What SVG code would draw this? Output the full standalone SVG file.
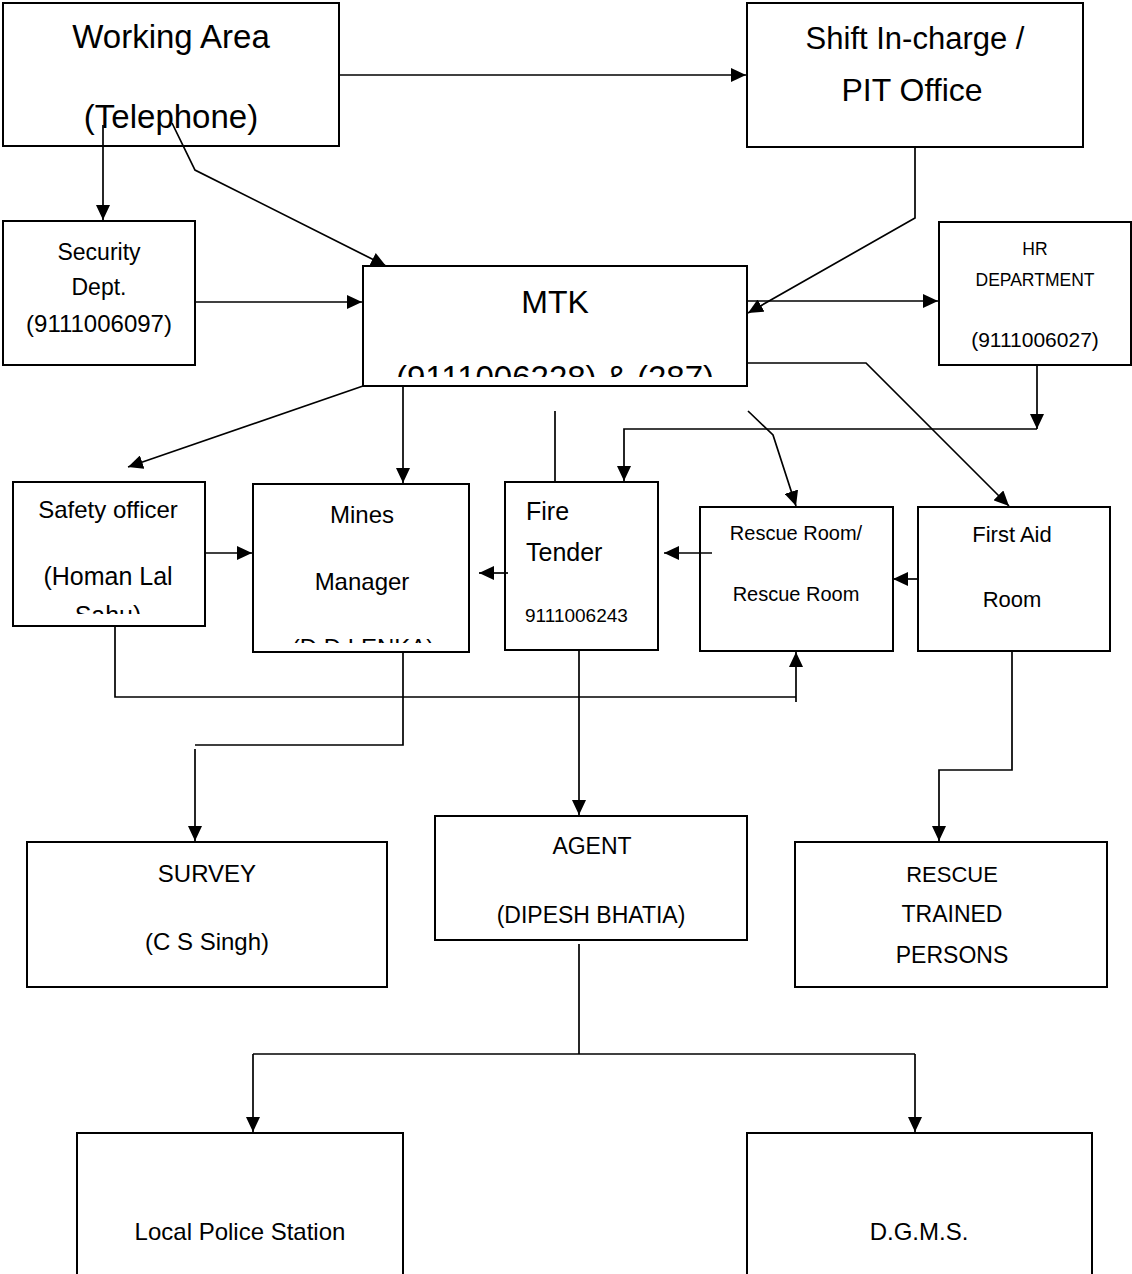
<svg xmlns="http://www.w3.org/2000/svg" width="1132" height="1274" viewBox="0 0 1132 1274">
<style>
.box{fill:#fff;stroke:#000;stroke-width:2}
.c{fill:none;stroke:#000;stroke-width:1.7}
text{font-family:"Liberation Sans",Arial,sans-serif;fill:#000;text-anchor:middle}
.l{text-anchor:start}
</style>
<defs>
<marker id="ah" markerUnits="userSpaceOnUse" markerWidth="16" markerHeight="14" refX="15" refY="7" orient="auto">
<path d="M0,0 L15,7 L0,14 z" fill="#000"/>
</marker>
<clipPath id="clipMTK"><rect x="363" y="266" width="384" height="111"/></clipPath>
<clipPath id="clipSafety"><rect x="13" y="482" width="192" height="132"/></clipPath>
<clipPath id="clipMines"><rect x="253" y="484" width="216" height="159"/></clipPath>
</defs>
<rect width="1132" height="1274" fill="#fff"/>

<g id="working-area">
<rect class="box" x="3" y="3" width="336" height="143"/>
<text x="171" y="48" font-size="33">Working Area</text>
<text x="171" y="128" font-size="33">(Telephone)</text>
</g>
<g id="shift-incharge">
<rect class="box" x="747" y="3" width="336" height="144"/>
<text x="915" y="49" font-size="31">Shift In-charge /</text>
<text x="912" y="101" font-size="32">PIT Office</text>
</g>
<g id="security">
<rect class="box" x="3" y="221" width="192" height="144"/>
<text x="99" y="260" font-size="23">Security</text>
<text x="99" y="295" font-size="23">Dept.</text>
<text x="99" y="332" font-size="24">(9111006097)</text>
</g>
<g id="mtk">
<rect class="box" x="363" y="266" width="384" height="120"/>
<text x="555" y="313" font-size="32">MTK</text>
<text x="555" y="389" font-size="33" clip-path="url(#clipMTK)">(9111006228) &amp; (287)</text>
</g>
<g id="hr">
<rect class="box" x="939" y="222" width="192" height="143"/>
<text x="1035" y="255" font-size="17.5">HR</text>
<text x="1035" y="286" font-size="17.5">DEPARTMENT</text>
<text x="1035" y="347" font-size="21">(9111006027)</text>
</g>
<g id="safety-officer">
<rect class="box" x="13" y="482" width="192" height="144"/>
<text x="108" y="518" font-size="24">Safety officer</text>
<text x="108" y="585" font-size="25">(Homan Lal</text>
<text x="108" y="624" font-size="25" clip-path="url(#clipSafety)">Sahu)</text>
</g>
<g id="mines-manager">
<rect class="box" x="253" y="484" width="216" height="168"/>
<text x="362" y="523" font-size="24">Mines</text>
<text x="362" y="590" font-size="24">Manager</text>
<text x="363" y="656" font-size="24" clip-path="url(#clipMines)">(D.D.LENKA)</text>
</g>
<g id="fire-tender">
<rect class="box" x="505" y="482" width="153" height="168"/>
<text class="l" x="526" y="520" font-size="25">Fire</text>
<text class="l" x="526" y="561" font-size="25">Tender</text>
<text class="l" x="525" y="622" font-size="19">9111006243</text>
</g>
<g id="rescue-room">
<rect class="box" x="700" y="507" width="193" height="144"/>
<text x="796" y="540" font-size="20">Rescue Room/</text>
<text x="796" y="601" font-size="20">Rescue Room</text>
</g>
<g id="first-aid">
<rect class="box" x="918" y="507" width="192" height="144"/>
<text x="1012" y="542" font-size="22">First Aid</text>
<text x="1012" y="607" font-size="22">Room</text>
</g>
<g id="survey">
<rect class="box" x="27" y="842" width="360" height="145"/>
<text x="207" y="882" font-size="24">SURVEY</text>
<text x="207" y="950" font-size="24">(C S Singh)</text>
</g>
<g id="agent">
<rect class="box" x="435" y="816" width="312" height="124"/>
<text x="592" y="854" font-size="23">AGENT</text>
<text x="591" y="923" font-size="23">(DIPESH BHATIA)</text>
</g>
<g id="rescue-trained">
<rect class="box" x="795" y="842" width="312" height="145"/>
<text x="952" y="882" font-size="22">RESCUE</text>
<text x="952" y="922" font-size="23">TRAINED</text>
<text x="952" y="963" font-size="23">PERSONS</text>
</g>
<g id="police">
<rect class="box" x="77" y="1133" width="326" height="160"/>
<text x="240" y="1240" font-size="24">Local Police Station</text>
</g>
<g id="dgms">
<rect class="box" x="747" y="1133" width="345" height="160"/>
<text x="919" y="1240" font-size="24">D.G.M.S.</text>
</g>

<g id="connectors">
<path class="c" d="M339,75 L746,75" marker-end="url(#ah)"/>
<path class="c" d="M103,125 L103,220" marker-end="url(#ah)"/>
<path class="c" d="M172,123 L195,170 L386,266" marker-end="url(#ah)"/>
<path class="c" d="M195,302 L362,302" marker-end="url(#ah)"/>
<path class="c" d="M915,147 L915,218 L748,313" marker-end="url(#ah)"/>
<path class="c" d="M747,301 L938,301" marker-end="url(#ah)"/>
<path class="c" d="M1037,365 L1037,429" marker-end="url(#ah)"/>
<path class="c" d="M1037,429 L624,429 L624,481" marker-end="url(#ah)"/>
<path class="c" d="M363,386 L128,467" marker-end="url(#ah)"/>
<path class="c" d="M403,386 L403,483" marker-end="url(#ah)"/>
<path class="c" d="M555,411 L555,482"/>
<path class="c" d="M748,411 L773,435 L796,506" marker-end="url(#ah)"/>
<path class="c" d="M747,363 L866,363 L1009,506" marker-end="url(#ah)"/>
<path class="c" d="M205,553 L252,553" marker-end="url(#ah)"/>
<path class="c" d="M508,573 L479,573" marker-end="url(#ah)"/>
<path class="c" d="M712,553 L664,553" marker-end="url(#ah)"/>
<path class="c" d="M918,579 L893,579" marker-end="url(#ah)"/>
<path class="c" d="M115,626 L115,697 L796,697"/>
<path class="c" d="M796,702 L796,652" marker-end="url(#ah)"/>
<path class="c" d="M403,652 L403,745 L195,745"/>
<path class="c" d="M195,749 L195,841" marker-end="url(#ah)"/>
<path class="c" d="M579,650 L579,815" marker-end="url(#ah)"/>
<path class="c" d="M1012,651 L1012,770 L939,770 L939,841" marker-end="url(#ah)"/>
<path class="c" d="M579,944 L579,1054"/>
<path class="c" d="M253,1054 L915,1054"/>
<path class="c" d="M253,1054 L253,1132" marker-end="url(#ah)"/>
<path class="c" d="M915,1054 L915,1132" marker-end="url(#ah)"/>
</g>
</svg>
